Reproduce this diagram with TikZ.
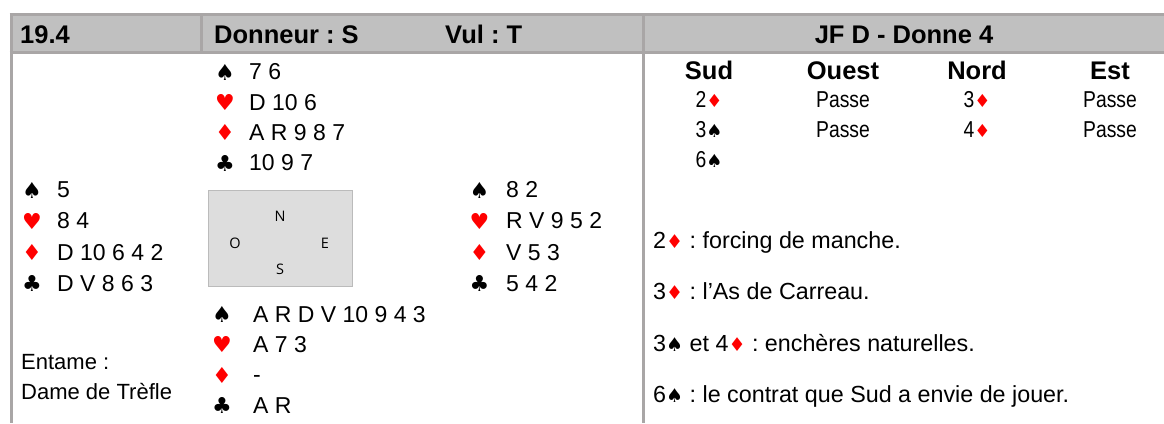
\documentclass[tikz,border=0pt]{standalone}
\usepackage{fontspec}
\setmainfont{Liberation Sans}
\newfontfamily\suitfont{DejaVu Sans}
\newfontfamily\narrowfont[FakeStretch=0.84]{Liberation Sans}
\newfontfamily\compassfont{Open Sans}

\definecolor{rulegray}{HTML}{A9A6A6}
\definecolor{hdrgray}{HTML}{C0C0C0}
\definecolor{boxgray}{HTML}{DDDDDD}
\definecolor{boxline}{HTML}{BBBBBB}
\definecolor{suitred}{HTML}{FF0000}

% suit symbols
\newcommand{\pique}[1][18]{{\suitfont\fontsize{#1}{#1}\selectfont ♠}}
\newcommand{\coeur}[1][18]{{\suitfont\fontsize{#1}{#1}\selectfont\color{suitred}♥}}
\newcommand{\carreau}[1][18]{{\suitfont\fontsize{#1}{#1}\selectfont\color{suitred}♦}}
\newcommand{\trefle}[1][18]{{\suitfont\fontsize{#1}{#1}\selectfont ♣}}

\tikzset{
  rule/.style={draw=rulegray,line width=3pt},
  hdr/.style={font=\fontsize{25.5}{30}\selectfont\bfseries,anchor=base west,inner sep=0},
  cards/.style={font=\fontsize{23}{27}\selectfont,anchor=base west,inner sep=0},
  suit/.style={anchor=base,inner sep=0},
  bidhead/.style={font=\fontsize{25.5}{30}\selectfont\bfseries,anchor=base,inner sep=0},
  bid/.style={font=\narrowfont\fontsize{23}{27}\selectfont,anchor=base,inner sep=0},
  note/.style={font=\fontsize{23.3}{27}\selectfont,anchor=base west,inner sep=0},
  lead/.style={font=\fontsize{22}{26}\selectfont,anchor=base west,inner sep=0},
  tablebox/.style={draw=boxline,line width=1.5pt,fill=boxgray,minimum width=144pt,minimum height=96pt,inner sep=0},
  wind/.style={font=\compassfont\fontsize{14.5}{16}\selectfont,inner sep=0}
}

\begin{document}
\frenchspacing
\begin{tikzpicture}[x=1pt,y=-1pt]
  \useasboundingbox (0,0) rectangle (1164,423);

  % header band and rules
  \fill[hdrgray] (11,14.5) rectangle (1164,52.5);
  \draw[rule] (9.5,14.5) -- (1164,14.5);
  \draw[rule] (9.5,52.5) -- (1164,52.5);
  \draw[rule] (11,13) -- (11,423);
  \draw[rule] (201.5,16) -- (201.5,51);
  \draw[rule] (643,13) -- (643,423);

  \node[hdr] (num) at (20,43) {19.4};
  \node[hdr] (dealer) at (214,43) {Donneur : S};
  \node[hdr] (vul) at (445,43) {Vul : T};
  \node[hdr,anchor=base] (title) at (904,43) {JF D - Donne 4};

  % table
  \node[tablebox] (tbl) at (280.5,238.5) {};
  \begin{scope}[every node/.style={wind}]
  \node (wn) at (280,216.5) {N};
  \node (wo) at (235,243) {O};
  \node (we) at (325,243) {E};
  \node (ws) at (280,269) {S};
  \end{scope}

  % Nord
  \node[suit] (n1) at (225,80) {\pique[22]};
  \node[suit] (n2) at (225,110.5) {\coeur[22]};
  \node[suit] (n3) at (225,140.5) {\carreau[22]};
  \node[suit] (n4) at (225,171) {\trefle[22]};
  \node[cards] (n1c) at (249,79.5) {7 6};
  \node[cards] (n2c) at (249,110) {D 10 6};
  \node[cards] (n3c) at (249,140) {A R 9 8 7};
  \node[cards] (n4c) at (249,170.5) {10 9 7};

  % Ouest
  \node[suit] (o1) at (32,198) {\pique[22]};
  \node[suit] (o2) at (32,229) {\coeur[22]};
  \node[suit] (o3) at (32,260.5) {\carreau[22]};
  \node[suit] (o4) at (32,291.5) {\trefle[22]};
  \node[cards] (o1c) at (57,197.5) {5};
  \node[cards] (o2c) at (57,228.5) {8 4};
  \node[cards] (o3c) at (57,260) {D 10 6 4 2};
  \node[cards] (o4c) at (57,291) {D V 8 6 3};

  % Est
  \node[suit] (e1) at (479.5,198) {\pique[22]};
  \node[suit] (e2) at (479.5,229) {\coeur[22]};
  \node[suit] (e3) at (479.5,260.5) {\carreau[22]};
  \node[suit] (e4) at (479.5,291.5) {\trefle[22]};
  \node[cards] (e1c) at (506,197.5) {8 2};
  \node[cards] (e2c) at (506,228.5) {R V 9 5 2};
  \node[cards] (e3c) at (506,260) {V 5 3};
  \node[cards] (e4c) at (506,291) {5 4 2};

  % Sud
  \node[suit] (s1) at (222,322.5) {\pique[22]};
  \node[suit] (s2) at (222,352.5) {\coeur[22]};
  \node[suit] (s3) at (222,383) {\carreau[22]};
  \node[suit] (s4) at (222,413.5) {\trefle[22]};
  \node[cards] (s1c) at (253,322) {A R D V 10 9 4 3};
  \node[cards] (s2c) at (253,352) {A 7 3};
  \node[cards] (s3c) at (253,382.5) {-};
  \node[cards] (s4c) at (253,413) {A R};

  \node[lead] (ent) at (21,369) {Entame :};
  \node[lead] (entc) at (21,399) {Dame de Trèfle};

  % enchères
  \node[bidhead] (hs) at (709,79) {Sud};
  \node[bidhead] (ho) at (843,79) {Ouest};
  \node[bidhead] (hn) at (977,79) {Nord};
  \node[bidhead] (he) at (1110,79) {Est};
  \node[bid] (b1) at (709,107) {2\carreau};
  \node[bid] (b2) at (843,107) {Passe};
  \node[bid] (b3) at (977,107) {3\carreau};
  \node[bid] (b4) at (1110,107) {Passe};
  \node[bid] (b5) at (709,137) {3\pique};
  \node[bid] (b6) at (843,137) {Passe};
  \node[bid] (b7) at (977,137) {4\carreau};
  \node[bid] (b8) at (1110,137) {Passe};
  \node[bid] (b9) at (709,167) {6\pique};

  % commentaires
  \node[note] (c1) at (653,248) {2\carreau[19]{} : forcing de manche.};
  \node[note] (c2) at (653,299.5) {3\carreau[19]{} : l’As de Carreau.};
  \node[note] (c3) at (653,351) {3\pique[19]{} et 4\carreau[19]{} : enchères naturelles.};
  \node[note] (c4) at (653,402.5) {6\pique[19]{} : le contrat que Sud a envie de jouer.};
\end{tikzpicture}
\end{document}
